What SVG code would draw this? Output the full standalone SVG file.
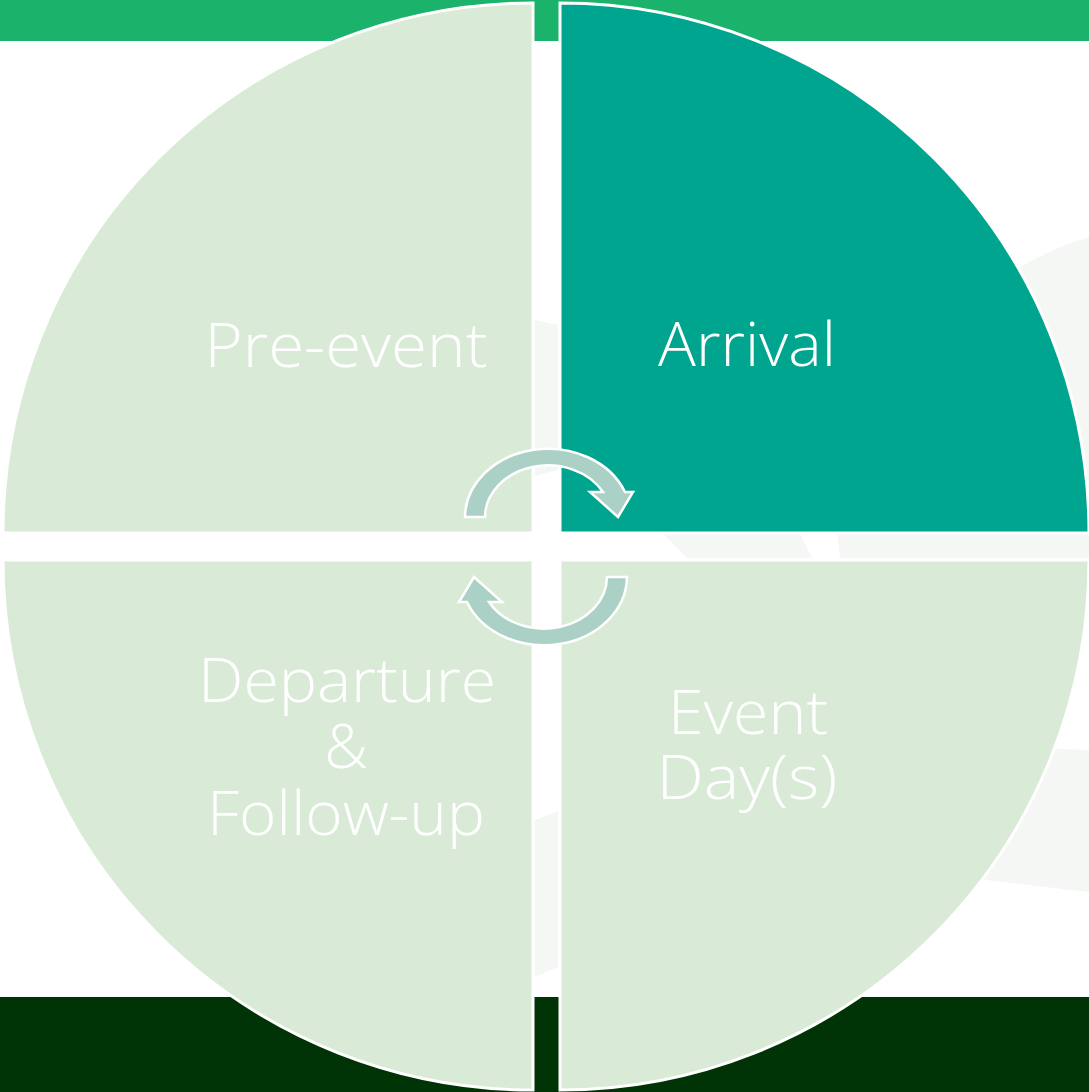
<svg xmlns="http://www.w3.org/2000/svg" width="1089" height="1092" viewBox="0 0 1089 1092">
<style>
.q{stroke:#ffffff;stroke-width:3}
.light{fill:#d9ebd7}
.teal{fill:#00a58f}
.faint{fill:#f5f7f4}
.arr{fill:#abd0c6;stroke:#ffffff;stroke-width:2.5;stroke-linejoin:miter}
.t{font-family:"Open Sans","Liberation Sans",Arial,sans-serif;font-weight:300;font-size:61px;fill:#ffffff;text-anchor:middle}
</style>
<rect x="0" y="0" width="1089" height="1092" fill="#ffffff"/>
<g id="background">
<rect x="0" y="0" width="1089" height="41" fill="#1bb26b"/>
<rect x="0" y="997" width="1089" height="95" fill="#003305"/>
<path class="faint" d="M535,320 L558,325 L558,470 L535,476 Z"/>
<path class="faint" d="M663,533 L800,533 L812,558 L687,558 Z"/>
<path class="faint" d="M990,285 Q1040,252 1089,237 L1089,558 L840,558 L837,533 L990,533 Z"/>
<path class="faint" d="M940,745 L1089,750 L1089,892 L985,880 L930,876 Z"/>
<path class="faint" d="M535,820 L558,811 L558,967 L535,977 Z"/>
</g>
<g id="node-pre-event">
<path class="q light" d="M533,533 L3,533 A530,530 0 0 1 533,3 Z"/>
<text class="t" x="346" y="367" textLength="283" lengthAdjust="spacingAndGlyphs">Pre-event</text>
</g>
<g id="node-arrival">
<path class="q teal" d="M560,533 L560,3 A529,530 0 0 1 1089,533 Z"/>
<text class="t" x="747" y="366" textLength="178" lengthAdjust="spacingAndGlyphs">Arrival</text>
</g>
<g id="node-event-days">
<path class="q light" d="M560,560 L1089,560 A529,530 0 0 1 560,1090 Z"/>
<text class="t" x="748" y="734" textLength="160" lengthAdjust="spacingAndGlyphs">Event</text>
<text class="t" x="747" y="799" textLength="181" lengthAdjust="spacingAndGlyphs">Day(s)</text>
</g>
<g id="node-departure">
<path class="q light" d="M533,560 L533,1090 A530,530 0 0 1 3,560 Z"/>
<text class="t" x="347" y="702" textLength="298" lengthAdjust="spacingAndGlyphs">Departure</text>
<text class="t" x="346" y="768">&amp;</text>
<text class="t" x="346" y="835" textLength="278" lengthAdjust="spacingAndGlyphs">Follow-up</text>
</g>
<g id="connectors">
<path id="arrow-top" class="arr" d="M465,517 A83,69 0 0 1 625,492 L633,492 L618,517 L590,492 L603,492 A63,52 0 0 0 485,517 Z"/>
<path id="arrow-bottom" class="arr" transform="rotate(180 546 547)" d="M465,517 A83,69 0 0 1 625,492 L633,492 L618,517 L590,492 L603,492 A63,52 0 0 0 485,517 Z"/>
</g>
</svg>
